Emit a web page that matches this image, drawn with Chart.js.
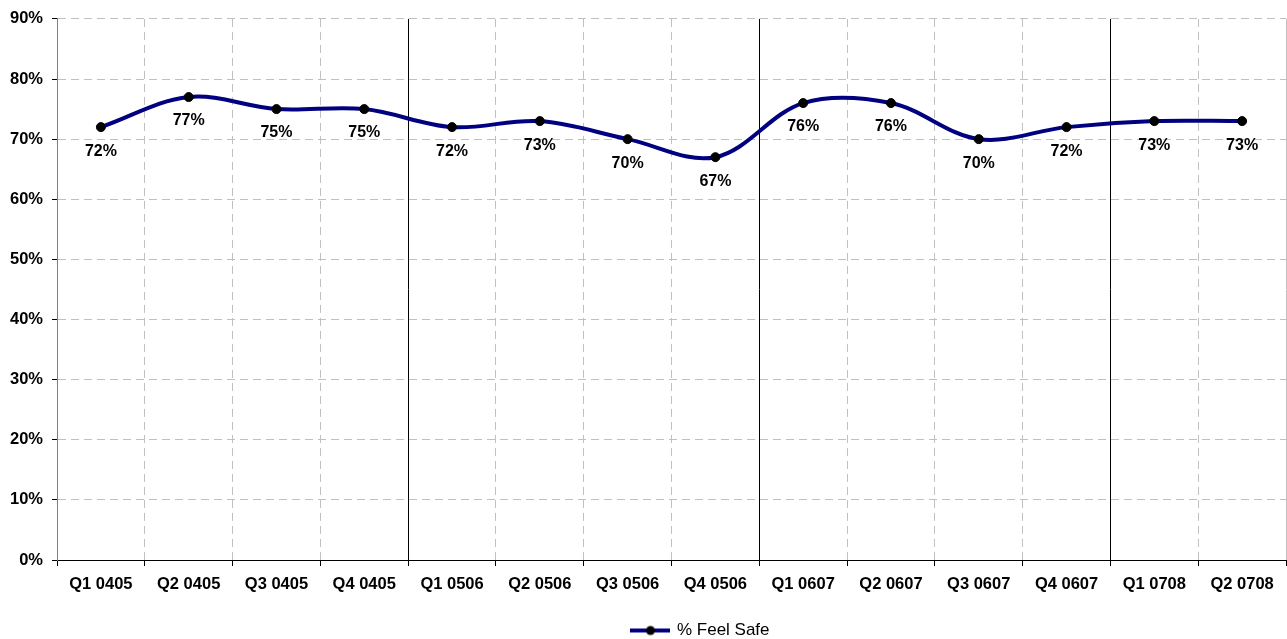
<!DOCTYPE html>
<html lang="en">
<head>
  <meta charset="UTF-8">
  <title>% Feel Safe</title>
  <style>
    body { margin: 0; padding: 0; background: #fff; overflow: hidden; }
    #wrap { width: 1287px; height: 639px; }
    canvas { display: block; }
  </style>
</head>
<body>
  <div id="wrap"><canvas id="grafico" width="1287" height="639"></canvas></div>
  <script src="https://cdn.jsdelivr.net/npm/chart.js"></script>
  <script>
    // dados
    const categorias = ['Q1 0405', 'Q2 0405', 'Q3 0405', 'Q4 0405', 'Q1 0506', 'Q2 0506', 'Q3 0506',
                        'Q4 0506', 'Q1 0607', 'Q2 0607', 'Q3 0607', 'Q4 0607', 'Q1 0708', 'Q2 0708'];
    const feelSafe = [72, 77, 75, 75, 72, 73, 70, 67, 76, 76, 70, 72, 73, 73];
    const nomeSerie = '% Feel Safe';

    Chart.defaults.font.family = '"Liberation Sans", Arial, sans-serif';
    Chart.defaults.color = '#000';

    // linhas sólidas a cada 4 trimestres
    function linhaSolida(i) { return i > 0 && i < categorias.length && i % 4 === 0; }

    // símbolo da legenda: linha com ponto
    const simbolo = document.createElement('canvas');
    simbolo.width = 40; simbolo.height = 12;
    const sctx = simbolo.getContext('2d');
    sctx.strokeStyle = '#000080'; sctx.lineWidth = 4;
    sctx.beginPath(); sctx.moveTo(0, 6); sctx.lineTo(40, 6); sctx.stroke();
    sctx.fillStyle = '#000';
    sctx.beginPath(); sctx.arc(20, 6, 4.5, 0, Math.PI * 2); sctx.fill();

    const rotulos = {
      id: 'rotulos',
      afterLayout(chart) {
        // legenda do original fica mais abaixo e um pouco à direita do centro
        const lg = chart.legend;
        lg.left += 58; lg.right += 58;
        lg.top += 10; lg.bottom += 10;
      },
      afterDatasetsDraw(chart) {
        const ctx = chart.ctx;
        const meta = chart.getDatasetMeta(0);
        ctx.save();
        ctx.font = 'bold 16px "Liberation Sans", Arial, sans-serif';
        ctx.fillStyle = '#000';
        ctx.textAlign = 'center';
        ctx.textBaseline = 'middle';
        meta.data.forEach((p, i) => {
          ctx.fillText(feelSafe[i] + '%', p.x, p.y + 24);
        });
        ctx.restore();
      }
    };

    new Chart(document.getElementById('grafico'), {
      type: 'line',
      data: {
        labels: categorias,
        datasets: [{
          label: nomeSerie,
          data: feelSafe,
          borderColor: '#000080',
          borderWidth: 4,
          tension: 0.35,
          pointRadius: 4.5,
          pointBackgroundColor: '#000',
          pointBorderColor: '#000',
          pointBorderWidth: 1,
          fill: false
        }]
      },
      options: {
        responsive: false,
        devicePixelRatio: 1,
        animation: false,
        layout: { autoPadding: false, padding: { top: 17, right: 1, left: 0, bottom: 0 } },
        plugins: {
          legend: {
            position: 'bottom',
            labels: {
              usePointStyle: true,
              pointStyle: simbolo,
              pointStyleWidth: 36,
              padding: 2,
              font: { size: 17 },
              color: '#000'
            }
          },
          tooltip: { enabled: false }
        },
        scales: {
          x: {
            offset: true,
            afterFit(s) { s.height = 50; },
            grid: {
              offset: true,
              color: c => c.index === 0 ? '#808080' : (linhaSolida(c.index) ? '#000' : '#c0c0c0'),
              lineWidth: 1,
              tickColor: '#000',
              tickLength: 6
            },
            border: {
              color: '#000',
              width: 1,
              dash: c => (c.type === 'tick' && c.index > 0 && !linhaSolida(c.index)) ? [8, 5] : []
            },
            ticks: {
              padding: 9,
              font: { size: 16.5, weight: 'bold' },
              color: '#000',
              maxRotation: 0,
              autoSkip: false
            }
          },
          y: {
            min: 0,
            max: 90,
            afterFit(s) { s.width = 57; },
            grid: {
              color: c => c.index === 0 ? '#000' : '#c0c0c0',
              lineWidth: 1,
              tickColor: '#000',
              tickLength: 5
            },
            border: {
              color: '#808080',
              width: 1,
              dash: c => (c.type === 'tick' && c.index > 0) ? [8, 5] : []
            },
            ticks: {
              stepSize: 10,
              padding: 9,
              font: { size: 16.5, weight: 'bold' },
              color: '#000',
              callback: v => v + '%'
            }
          }
        }
      },
      plugins: [rotulos]
    });
  </script>
</body>
</html>
